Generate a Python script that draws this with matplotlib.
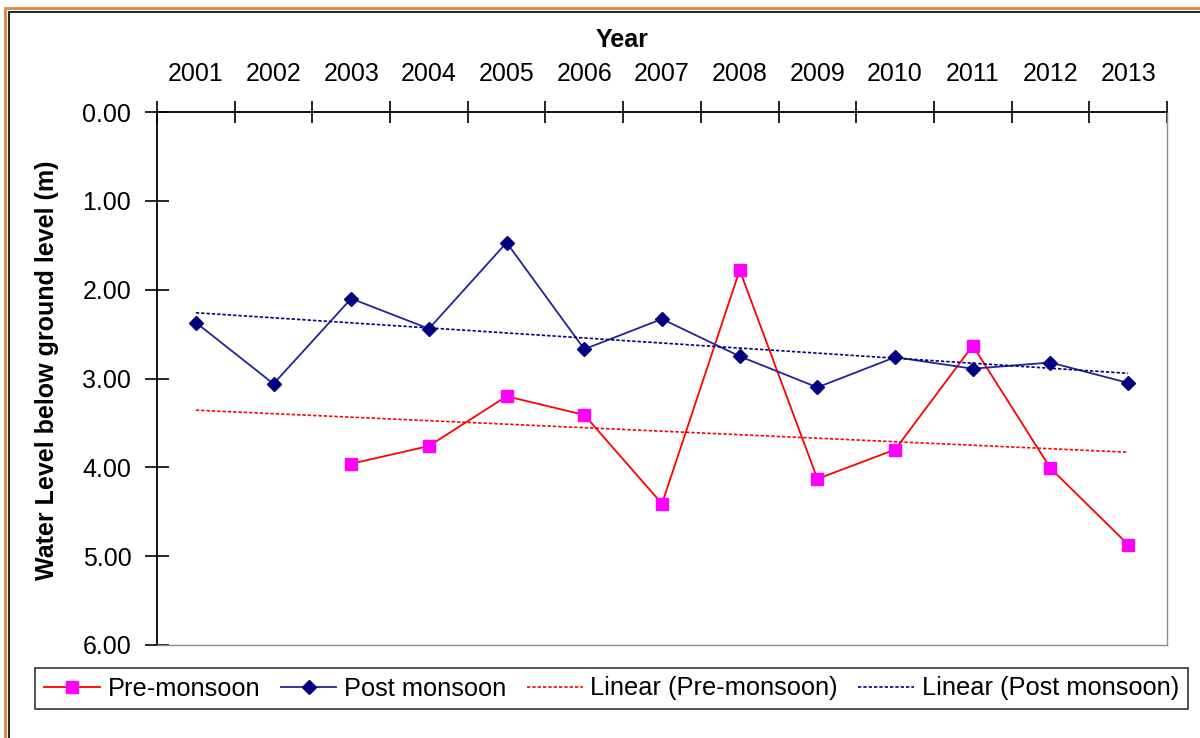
import numpy as np
import matplotlib
matplotlib.use('Agg')
import matplotlib.pyplot as plt
from matplotlib.patches import Rectangle

plt.rcParams['font.family'] = ['Liberation Sans', 'DejaVu Sans']

# data (water level below ground, m)
years = [2001, 2002, 2003, 2004, 2005, 2006, 2007, 2008, 2009, 2010, 2011, 2012, 2013]
pre_monsoon = [np.nan, np.nan, 3.96, 3.76, 3.20, 3.41, 4.41, 1.78, 4.13, 3.80, 2.63, 4.01, 4.87]
post_monsoon = [2.37, 3.06, 2.10, 2.44, 1.47, 2.67, 2.33, 2.75, 3.10, 2.76, 2.89, 2.82, 3.05]

x = np.arange(1, len(years) + 1)
pre = np.array(pre_monsoon)
post = np.array(post_monsoon)

# linear trendlines (as Excel does it)
ok = ~np.isnan(pre)
p_pre = np.polyfit(x[ok], pre[ok], 1)
p_post = np.polyfit(x, post, 1)

fig = plt.figure(figsize=(12, 7.38), dpi=100)
ax = fig.add_axes([157/1200, 1 - 645/738, 1010/1200, 533/738])

red = '#FF0000'
navy = '#000080'
fs = 18

ax.plot(x, pre, color=red, lw=1.3, marker='s', ms=9, mfc='#FF00FF', mec='#FF00FF',
        label='Pre-monsoon')
ax.plot(x, post, color='#23239A', lw=1.3, marker='D', ms=7, mfc=navy, mec=navy,
        label='Post monsoon')
ax.plot(x, np.polyval(p_pre, x), color=red, lw=1.2, ls=(0, (2, 1.2)),
        label='Linear (Pre-monsoon)')
ax.plot(x, np.polyval(p_post, x), color=navy, lw=1.2, ls=(0, (2, 1.2)),
        label='Linear (Post monsoon)')

# axis setup
ax.set_xlim(0.5, len(years) + 0.5)
ax.set_ylim(6, 0)
ax.set_yticks(np.arange(0, 7, 1))
ax.set_yticklabels([f'{v:.2f}' for v in range(7)])

ax.xaxis.tick_top()
ax.set_xticks(np.arange(0.5, len(years) + 1, 1))
ax.set_xticklabels([])
ax.set_xticks(x, minor=True)
ax.set_xticklabels([str(y) for y in years], minor=True)
ax.tick_params(axis='x', which='major', direction='inout', length=16, width=1.2, top=True, bottom=False)
ax.tick_params(axis='x', which='minor', length=0, pad=19, labelsize=fs, top=True, bottom=False,
               labeltop=True, labelbottom=False)
ax.tick_params(axis='y', direction='inout', length=17, width=1.2, pad=10, labelsize=fs)

for s in ['left', 'top']:
    ax.spines[s].set_color('black')
    ax.spines[s].set_linewidth(1.3)
for s in ['right', 'bottom']:
    ax.spines[s].set_color('#8c8c8c')
    ax.spines[s].set_linewidth(1.0)

ax.xaxis.set_label_position('top')
ax.set_xlabel('Year', fontsize=fs, fontweight='bold', va='center')
ax.xaxis.set_label_coords((622 - 157) / 1010, 1 + 72 / 533)
ax.set_ylabel('Water Level below ground level (m)', fontsize=18, fontweight='bold', va='center')
ax.yaxis.set_label_coords((47 - 157) / 1010, (645 - 370) / 533)

leg = fig.legend(loc='center', bbox_to_anchor=(611.5/1200, 1 - 688.5/738), ncol=4,
                 fontsize=18.3, frameon=True, fancybox=False, edgecolor='black',
                 handlelength=2.2, handletextpad=0.3, columnspacing=0.8,
                 borderpad=0.35, borderaxespad=0)
leg.get_frame().set_linewidth(1.2)

# outer frame of the chart
fig.patches.append(Rectangle((5/1200, -0.1), 1.2, 1 - 8/738 + 0.1, transform=fig.transFigure,
                             fill=False, ec='#E8803E', lw=2, zorder=0))
fig.patches.append(Rectangle((9/1200, -0.1), 1.2, 1 - 12/738 + 0.1, transform=fig.transFigure,
                             fill=False, ec='black', lw=1.2, zorder=0))

fig.savefig('out.png', dpi=100)
